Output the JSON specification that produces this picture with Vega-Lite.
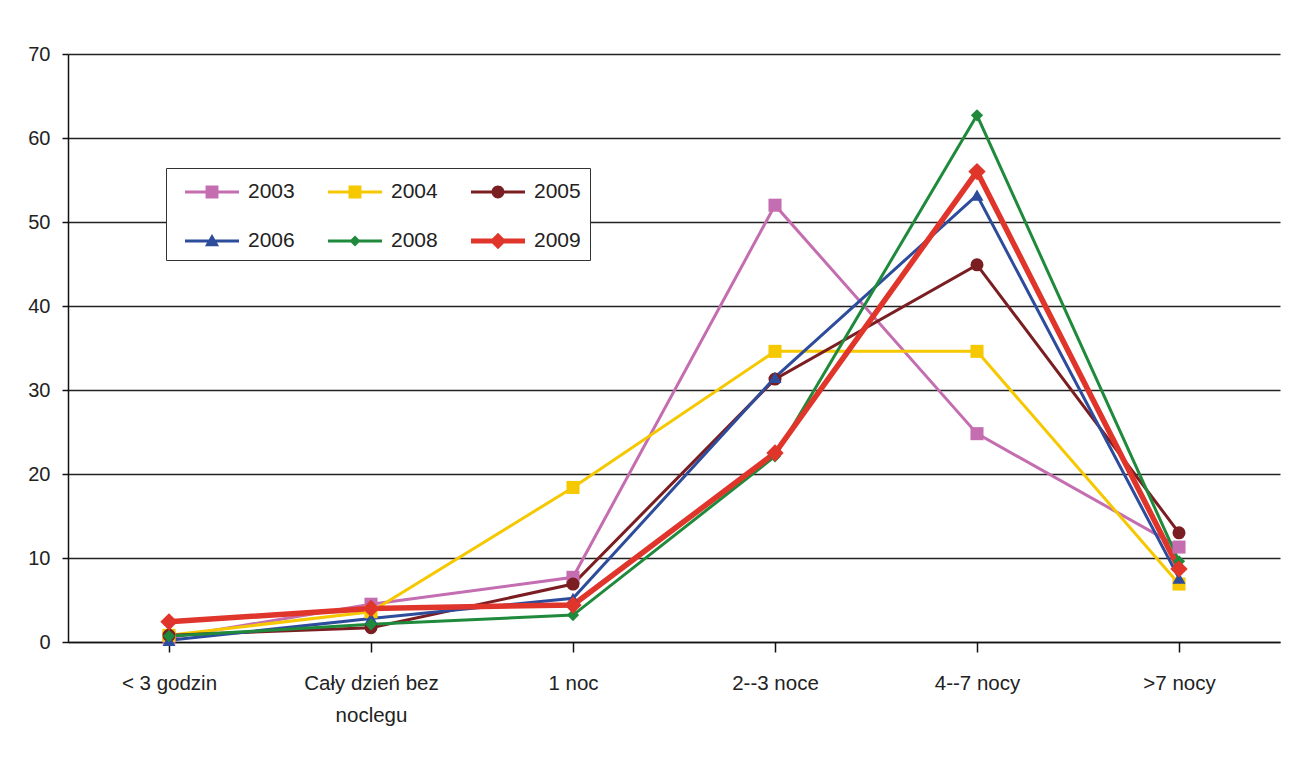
{
  "$schema": "https://vega.github.io/schema/vega-lite/v6.json",
  "width": 1212,
  "height": 588,
  "autosize": {"type": "none"},
  "padding": {"left": 68, "top": 54, "right": 9, "bottom": 120},
  "background": "white",
  "config": {
    "font": "Liberation Sans",
    "view": {"stroke": null}
  },
  "data": {
    "values": [
      {"cat": "< 3 godzin", "year": "2003", "value": 0.5},
      {"cat": "Cały dzień bez noclegu", "year": "2003", "value": 4.5},
      {"cat": "1 noc", "year": "2003", "value": 7.7},
      {"cat": "2--3 noce", "year": "2003", "value": 52.0},
      {"cat": "4--7 nocy", "year": "2003", "value": 24.8},
      {"cat": ">7 nocy", "year": "2003", "value": 11.3},
      {"cat": "< 3 godzin", "year": "2004", "value": 0.8},
      {"cat": "Cały dzień bez noclegu", "year": "2004", "value": 3.6},
      {"cat": "1 noc", "year": "2004", "value": 18.4},
      {"cat": "2--3 noce", "year": "2004", "value": 34.6},
      {"cat": "4--7 nocy", "year": "2004", "value": 34.6},
      {"cat": ">7 nocy", "year": "2004", "value": 6.9},
      {"cat": "< 3 godzin", "year": "2005", "value": 0.8},
      {"cat": "Cały dzień bez noclegu", "year": "2005", "value": 1.7},
      {"cat": "1 noc", "year": "2005", "value": 6.9},
      {"cat": "2--3 noce", "year": "2005", "value": 31.3},
      {"cat": "4--7 nocy", "year": "2005", "value": 44.9},
      {"cat": ">7 nocy", "year": "2005", "value": 13.0},
      {"cat": "< 3 godzin", "year": "2006", "value": 0.2},
      {"cat": "Cały dzień bez noclegu", "year": "2006", "value": 2.8},
      {"cat": "1 noc", "year": "2006", "value": 5.2},
      {"cat": "2--3 noce", "year": "2006", "value": 31.5},
      {"cat": "4--7 nocy", "year": "2006", "value": 53.2},
      {"cat": ">7 nocy", "year": "2006", "value": 7.6},
      {"cat": "< 3 godzin", "year": "2008", "value": 0.7},
      {"cat": "Cały dzień bez noclegu", "year": "2008", "value": 2.1},
      {"cat": "1 noc", "year": "2008", "value": 3.2},
      {"cat": "2--3 noce", "year": "2008", "value": 22.1},
      {"cat": "4--7 nocy", "year": "2008", "value": 62.7},
      {"cat": ">7 nocy", "year": "2008", "value": 9.6},
      {"cat": "< 3 godzin", "year": "2009", "value": 2.4},
      {"cat": "Cały dzień bez noclegu", "year": "2009", "value": 4.0},
      {"cat": "1 noc", "year": "2009", "value": 4.4},
      {"cat": "2--3 noce", "year": "2009", "value": 22.5},
      {"cat": "4--7 nocy", "year": "2009", "value": 56.0},
      {"cat": ">7 nocy", "year": "2009", "value": 8.7}
    ]
  },
  "encoding": {
    "x": {
      "field": "cat",
      "type": "nominal",
      "sort": ["< 3 godzin", "Cały dzień bez noclegu", "1 noc", "2--3 noce", "4--7 nocy", ">7 nocy"],
      "scale": {"paddingInner": 0, "paddingOuter": 0},
      "axis": {
        "title": null,
        "labelAngle": 0,
        "bandPosition": 0,
        "labelExpr": "datum.value == 'Cały dzień bez noclegu' ? ['Cały dzień bez', 'noclegu'] : datum.value",
        "labelFontSize": 20.5,
        "labelColor": "#222",
        "labelPadding": 21,
        "labelLineHeight": 32,
        "labelBaseline": "top",
        "tickSize": 10,
        "tickColor": "#111",
        "tickWidth": 1.5,
        "domainColor": "#111",
        "domainWidth": 1.5,
        "grid": false
      }
    },
    "y": {
      "field": "value",
      "type": "quantitative",
      "scale": {"domain": [0, 70], "nice": false},
      "axis": {
        "title": null,
        "values": [0, 10, 20, 30, 40, 50, 60, 70],
        "labelFontSize": 20,
        "labelColor": "#222",
        "labelPadding": 12,
        "tickSize": 6,
        "tickColor": "#111",
        "tickWidth": 1.5,
        "domainColor": "#111",
        "domainWidth": 1.5,
        "grid": true,
        "gridColor": "#222",
        "gridWidth": 1.5
      }
    },
    "color": {
      "field": "year",
      "type": "nominal",
      "scale": {
        "domain": ["2003", "2004", "2005", "2006", "2008", "2009"],
        "range": ["#C46DB0", "#F5C800", "#7B1E22", "#2E4C9C", "#1F8A3B", "#E0352B"]
      },
      "legend": {
        "title": null,
        "orient": "none",
        "legendX": 98,
        "legendY": 114,
        "columns": 3,
        "direction": "horizontal",
        "padding": 9,
        "fillColor": "white",
        "strokeColor": "#333",
        "labelFontSize": 21,
        "labelColor": "#222",
        "symbolSize": 900,
        "symbolOffset": 22,
        "labelOffset": 21,
        "columnPadding": 23,
        "rowPadding": 24,
        "symbolStrokeWidth": 0,
        "encode": {
          "symbols": {
            "update": {
              "shape": {"signal": "datum.value == '2003' || datum.value == '2004' ? 'M-1.8,-0.1H1.8V0.1H-1.8Z M-0.43,-0.43H0.43V0.43H-0.43Z' : datum.value == '2005' ? 'M-1.8,-0.1H1.8V0.1H-1.8Z M-0.43,0A0.43,0.43 0 1,1 0.43,0A0.43,0.43 0 1,1 -0.43,0Z' : datum.value == '2006' ? 'M-1.8,-0.1H1.8V0.1H-1.8Z M0,-0.47L0.47,0.35L-0.47,0.35Z' : datum.value == '2008' ? 'M-1.8,-0.1H1.8V0.1H-1.8Z M0,-0.37L0.37,0L0,0.37L-0.37,0Z' : 'M-1.8,-0.17H1.8V0.17H-1.8Z M0,-0.55L0.55,0L0,0.55L-0.55,0Z'"},
              "fill": {"signal": "scale('color', datum.value)"},
              "stroke": {"value": "transparent"},
              "strokeWidth": {"value": 0},
              "opacity": {"value": 1},
              "fillOpacity": {"value": 1}
            }
          }
        }
      }
    }
  },
  "layer": [
    {
      "mark": {"type": "line"},
      "encoding": {
        "strokeWidth": {"condition": {"test": "datum.year == '2009'", "value": 5.5}, "value": 3}
      }
    },
    {
      "mark": {"type": "point", "filled": true, "opacity": 1},
      "encoding": {
        "shape": {
          "condition": [
            {"test": "datum.year == '2005'", "value": "circle"},
            {"test": "datum.year == '2006'", "value": "triangle-up"},
            {"test": "datum.year == '2008' || datum.year == '2009'", "value": "diamond"}
          ],
          "value": "square"
        },
        "size": {
          "condition": [
            {"test": "datum.year == '2009'", "value": 300},
            {"test": "datum.year == '2008'", "value": 150}
          ],
          "value": 170
        }
      }
    }
  ]
}
